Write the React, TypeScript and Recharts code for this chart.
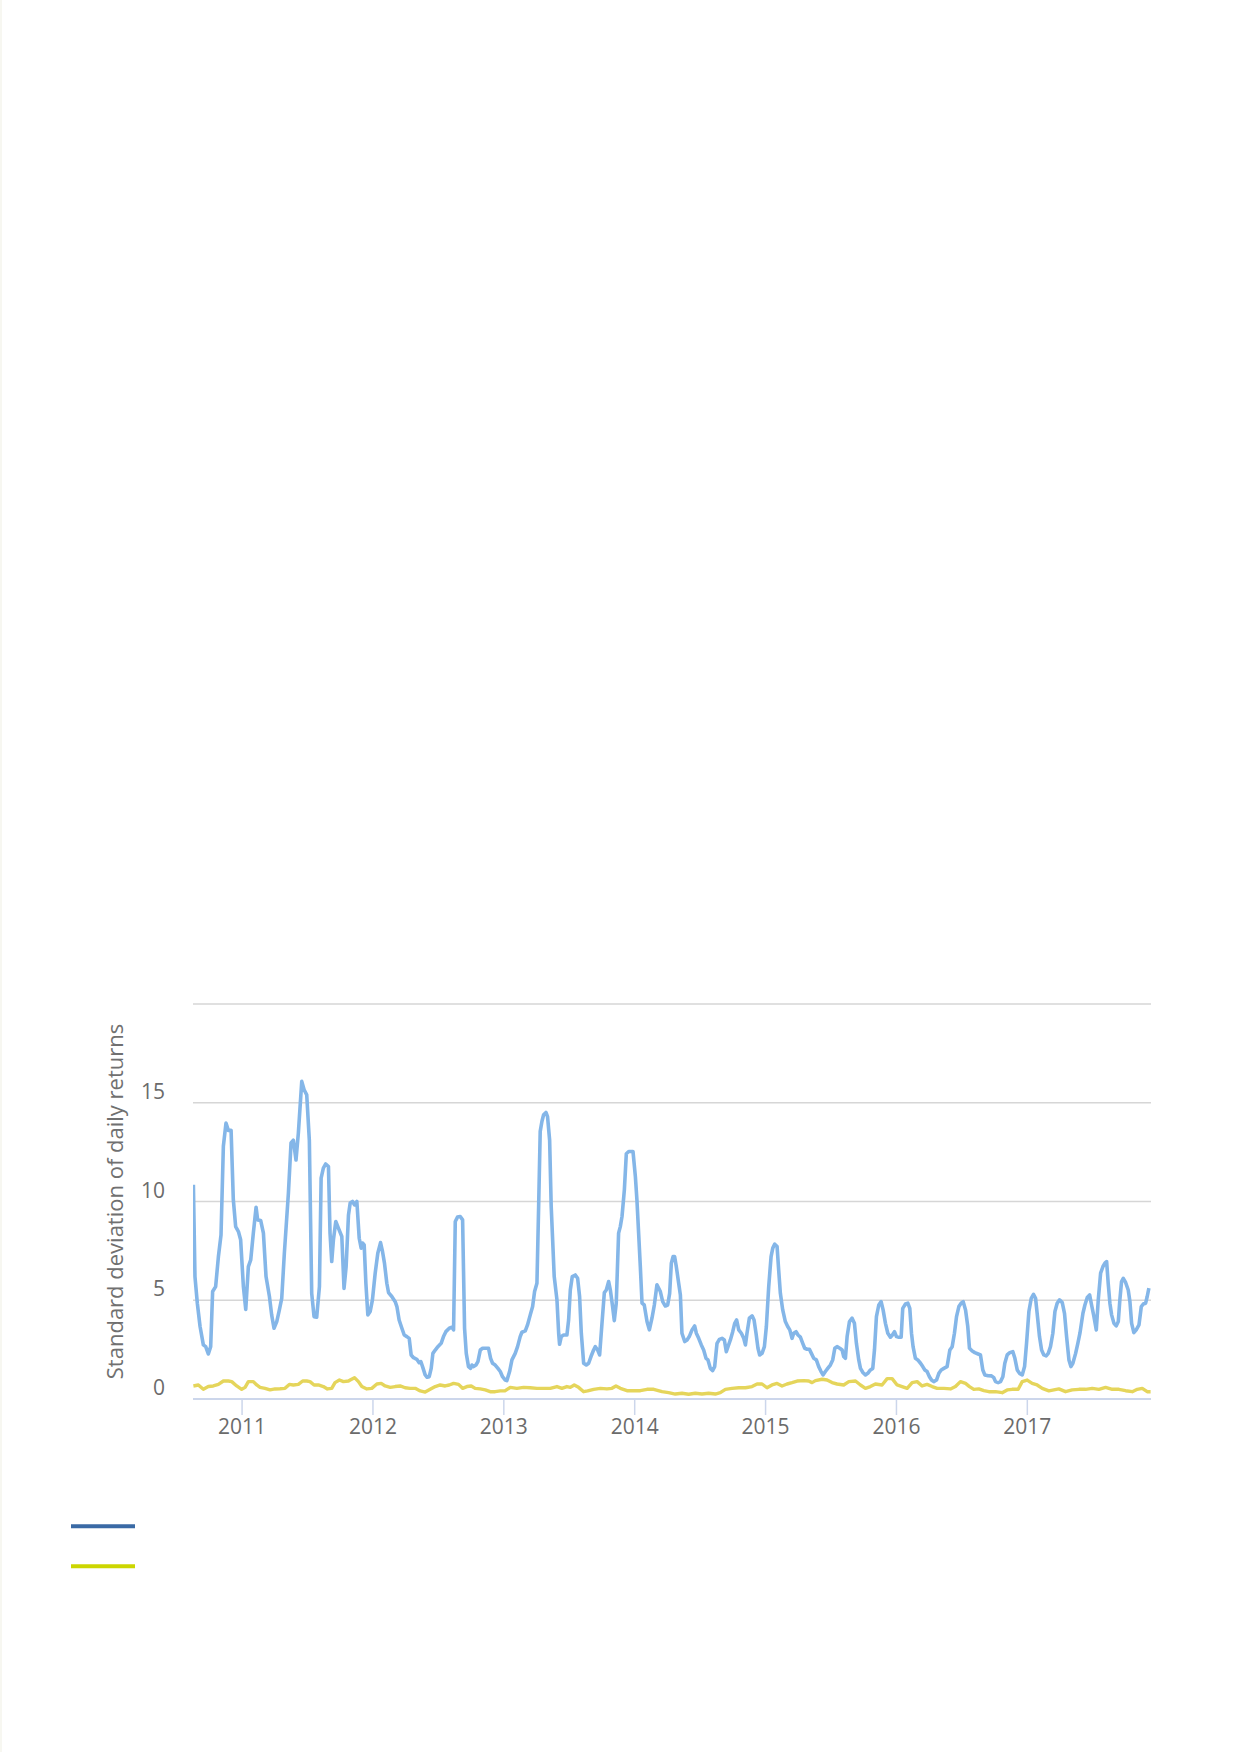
import React from "react";
import { LineChart, Line, XAxis, YAxis, CartesianGrid } from "recharts";

const FONT = '"Open Sans", "DejaVu Sans", sans-serif';

// decimal-year dates and values
const blueDates = [
  2010.628, 2010.64, 2010.658, 2010.679, 2010.704, 2010.722, 2010.742, 2010.76, 2010.775, 2010.798,
  2010.819, 2010.839, 2010.857, 2010.877, 2010.895, 2010.916, 2010.933, 2010.951, 2010.972, 2010.989,
  2011.01, 2011.028, 2011.048, 2011.066, 2011.086, 2011.107, 2011.119, 2011.142, 2011.163, 2011.183,
  2011.209, 2011.226, 2011.244, 2011.265, 2011.285, 2011.303, 2011.323, 2011.354, 2011.374, 2011.392,
  2011.412, 2011.43, 2011.456, 2011.474, 2011.494, 2011.514, 2011.532, 2011.55, 2011.57, 2011.591,
  2011.604, 2011.621, 2011.639, 2011.66, 2011.672, 2011.685, 2011.698, 2011.716, 2011.736, 2011.762,
  2011.779, 2011.795, 2011.813,
  2011.826, 2011.844, 2011.859, 2011.877, 2011.895, 2011.91, 2011.92, 2011.933, 2011.946, 2011.961,
  2011.979, 2011.996, 2012.017, 2012.037, 2012.058, 2012.073, 2012.088, 2012.106, 2012.119, 2012.144,
  2012.17, 2012.183, 2012.2, 2012.221, 2012.239, 2012.259, 2012.277, 2012.292, 2012.31, 2012.335,
  2012.353, 2012.366, 2012.379, 2012.399, 2012.414, 2012.43, 2012.445, 2012.458, 2012.476, 2012.496,
  2012.521, 2012.539, 2012.557, 2012.583, 2012.603, 2012.616, 2012.629, 2012.646, 2012.667, 2012.685,
  2012.7, 2012.713, 2012.73, 2012.746, 2012.756, 2012.769, 2012.787, 2012.802, 2012.82, 2012.838,
  2012.858, 2012.883, 2012.899, 2012.914, 2012.934, 2012.955, 2012.973, 2012.99, 2013.011,
  2013.023, 2013.044, 2013.062, 2013.087, 2013.105, 2013.125, 2013.138, 2013.164, 2013.181, 2013.202,
  2013.22, 2013.235, 2013.253, 2013.266, 2013.278, 2013.291, 2013.304, 2013.322, 2013.334, 2013.35,
  2013.362, 2013.373, 2013.385, 2013.406, 2013.419, 2013.426, 2013.439, 2013.457, 2013.482, 2013.495,
  2013.508, 2013.523, 2013.546, 2013.564, 2013.579, 2013.592, 2013.61, 2013.63, 2013.648, 2013.666,
  2013.686, 2013.699, 2013.717, 2013.732, 2013.75, 2013.768, 2013.783, 2013.801, 2013.814, 2013.831,
  2013.844, 2013.859, 2013.877, 2013.89, 2013.903, 2013.921, 2013.936, 2013.954, 2013.972, 2013.987,
  2014.005, 2014.017, 2014.03, 2014.043, 2014.056, 2014.073, 2014.094, 2014.112, 2014.132, 2014.15,
  2014.17,
  2014.196, 2014.214, 2014.234, 2014.252, 2014.267, 2014.28, 2014.293, 2014.305, 2014.318, 2014.336,
  2014.349, 2014.361, 2014.382, 2014.4, 2014.417, 2014.438, 2014.458, 2014.471, 2014.489, 2014.509,
  2014.527, 2014.545, 2014.56, 2014.578, 2014.596, 2014.611, 2014.629, 2014.647, 2014.667, 2014.685,
  2014.7, 2014.713, 2014.731, 2014.749, 2014.764, 2014.779, 2014.795, 2014.815, 2014.833, 2014.846,
  2014.858, 2014.876, 2014.897, 2014.912, 2014.927, 2014.942, 2014.955, 2014.973, 2014.991, 2015.006,
  2015.024, 2015.042, 2015.055, 2015.07, 2015.088, 2015.1, 2015.113, 2015.131, 2015.151, 2015.169,
  2015.185, 2015.202, 2015.215, 2015.233, 2015.248, 2015.266, 2015.284, 2015.299, 2015.317, 2015.335,
  2015.35, 2015.368,
  2015.388, 2015.406, 2015.424, 2015.439, 2015.457, 2015.475, 2015.495, 2015.513, 2015.529, 2015.546,
  2015.567, 2015.585, 2015.597, 2015.61, 2015.623, 2015.641, 2015.661, 2015.679, 2015.694, 2015.712,
  2015.725, 2015.745, 2015.763, 2015.781, 2015.801, 2015.819, 2015.832, 2015.847, 2015.865, 2015.883,
  2015.898, 2015.916, 2015.934, 2015.954, 2015.969, 2015.985, 2016.0, 2016.018, 2016.036, 2016.048,
  2016.069, 2016.087, 2016.102, 2016.115, 2016.127, 2016.145, 2016.163, 2016.184, 2016.201, 2016.217,
  2016.234, 2016.252, 2016.268, 2016.285, 2016.306, 2016.324, 2016.342, 2016.362, 2016.387, 2016.408,
  2016.426, 2016.443, 2016.459, 2016.477, 2016.494, 2016.51, 2016.528, 2016.545,
  2016.558, 2016.579, 2016.599, 2016.624, 2016.642, 2016.66, 2016.675, 2016.701, 2016.726, 2016.744,
  2016.757, 2016.777, 2016.795, 2016.813, 2016.828, 2016.846, 2016.866, 2016.889, 2016.905, 2016.923,
  2016.94, 2016.961, 2016.979, 2016.994, 2017.012, 2017.03, 2017.047, 2017.063, 2017.075, 2017.093,
  2017.109, 2017.126, 2017.144, 2017.16, 2017.177, 2017.195, 2017.211, 2017.228, 2017.246, 2017.267,
  2017.284, 2017.3, 2017.318, 2017.333, 2017.348, 2017.369, 2017.386, 2017.402, 2017.425, 2017.44,
  2017.458, 2017.476, 2017.491, 2017.509, 2017.527, 2017.542, 2017.56, 2017.578, 2017.593, 2017.606,
  2017.618, 2017.631, 2017.644, 2017.662, 2017.679, 2017.695, 2017.707, 2017.72, 2017.733, 2017.751,
  2017.771, 2017.784, 2017.797, 2017.814, 2017.832, 2017.853, 2017.871, 2017.886, 2017.904, 2017.916,
  2017.929,
];

const blueValues = [
  10.85, 6.2, 4.85, 3.67, 2.74, 2.65, 2.28, 2.65, 5.44, 5.69,
  7.2, 8.3, 12.8, 13.97, 13.6, 13.6, 10.1, 8.73, 8.48, 8.06,
  5.69, 4.54, 6.7, 7.04, 8.4, 9.71, 9.07, 9.04, 8.4, 6.2,
  5.19, 4.26, 3.58, 3.92, 4.51, 5.1, 7.38, 10.42, 12.96, 13.1,
  12.1, 13.46, 16.08, 15.66, 15.4, 13.1, 5.35, 4.17, 4.14, 5.69,
  11.18, 11.69, 11.9, 11.77, 8.4, 6.96, 8.06, 8.99, 8.65, 8.23,
  5.6, 6.7, 9.32,
  9.92, 10.0, 9.83, 10.0, 8.14, 7.64, 7.9, 7.8, 5.86, 4.26,
  4.43, 5.02, 6.37, 7.38, 7.92, 7.47, 6.88, 5.86, 5.39, 5.19,
  4.93, 4.68, 4.0, 3.58, 3.24, 3.16, 3.07, 2.23, 2.09, 2.01,
  1.84, 1.89, 1.64, 1.22, 1.1, 1.13, 1.55, 2.31, 2.48, 2.65,
  2.82, 3.16, 3.41, 3.58, 3.63, 3.5, 8.99, 9.21, 9.24, 9.07,
  3.58, 2.31, 1.64, 1.55, 1.72, 1.64, 1.72, 1.89, 2.48, 2.57,
  2.57, 2.57, 2.06, 1.81, 1.72, 1.55, 1.39, 1.13, 0.96,
  0.93, 1.39, 1.98, 2.31, 2.65, 3.16, 3.38, 3.45, 3.75, 4.26,
  4.68, 5.44, 5.86, 9.75, 13.55, 14.05, 14.39, 14.51, 14.3, 13.1,
  9.75, 8.06, 6.2, 5.02, 3.33, 2.77, 3.16, 3.24, 3.24, 4.0,
  5.52, 6.2, 6.28, 6.11, 5.19, 3.33, 1.81, 1.72, 1.81, 2.15,
  2.48, 2.65, 2.48, 2.23, 3.83, 5.39, 5.52, 5.95, 5.52, 4.68,
  3.97, 4.85, 8.4, 8.73, 9.24, 10.59, 12.42, 12.53, 12.53, 12.53,
  11.27, 10.08, 8.4, 6.7, 4.85, 4.76, 3.92, 3.5, 4.09, 4.76,
  5.78,
  5.44, 4.93, 4.71, 4.76, 5.35, 6.88, 7.21, 7.21, 6.7, 5.86,
  5.27, 3.33, 2.91, 2.99, 3.16, 3.5, 3.7, 3.33, 3.07, 2.74,
  2.48, 2.06, 1.98, 1.55, 1.44, 1.64, 2.82, 3.02, 3.07, 2.99,
  2.4, 2.65, 2.99, 3.41, 3.83, 4.0, 3.5, 3.33, 3.07, 2.74,
  3.33, 4.09, 4.21, 4.0, 3.33, 2.57, 2.23, 2.31, 2.65, 3.67,
  5.69, 7.21, 7.64, 7.84, 7.72, 6.54, 5.35, 4.51, 3.92, 3.67,
  3.5, 3.07, 3.33, 3.41, 3.24, 3.13, 2.82, 2.57, 2.52, 2.52,
  2.31, 2.06,
  1.98, 1.64, 1.39, 1.22, 1.39, 1.55, 1.72, 1.98, 2.57, 2.65,
  2.57, 2.48, 2.15, 2.06, 3.16, 3.92, 4.09, 3.83, 2.82, 1.98,
  1.55, 1.33, 1.22, 1.3, 1.47, 1.55, 2.48, 4.17, 4.76, 4.93,
  4.51, 3.83, 3.33, 3.13, 3.24, 3.41, 3.16, 3.13, 3.13, 4.59,
  4.81, 4.85, 4.59, 3.33, 2.65, 2.06, 1.98, 1.81, 1.64, 1.47,
  1.39, 1.13, 0.96, 0.88, 0.96, 1.3, 1.47, 1.55, 1.64, 2.48,
  2.65, 3.33, 4.17, 4.68, 4.85, 4.93, 4.51, 3.67,
  2.57, 2.43, 2.35, 2.28, 2.23, 1.47, 1.22, 1.18, 1.17, 1.08,
  0.88, 0.83, 0.88, 1.13, 1.81, 2.23, 2.35, 2.4, 2.06, 1.47,
  1.3, 1.22, 1.64, 2.82, 4.43, 5.1, 5.3, 5.1, 4.34, 3.16,
  2.48, 2.23, 2.18, 2.31, 2.65, 3.33, 4.43, 4.85, 5.02, 4.88,
  4.34, 3.16, 1.98, 1.64, 1.81, 2.31, 2.82, 3.33, 4.34, 4.76,
  5.14, 5.27, 4.76, 4.17, 3.5, 5.02, 6.37, 6.71, 6.88, 6.96,
  5.86, 4.85, 4.26, 3.83, 3.7, 3.92, 5.02, 5.95, 6.11, 5.9,
  5.52, 4.93, 3.83, 3.36, 3.5, 3.75, 4.68, 4.81, 4.85, 5.19,
  5.61,
];

const yellowDates = [
  2010.628, 2010.666, 2010.704, 2010.742, 2010.78, 2010.819, 2010.857, 2010.895, 2010.921, 2010.959,
  2010.997, 2011.023, 2011.048, 2011.086, 2011.112, 2011.137, 2011.175, 2011.214, 2011.252, 2011.29,
  2011.328, 2011.361, 2011.392, 2011.43, 2011.463, 2011.494, 2011.519, 2011.55, 2011.583, 2011.621,
  2011.652, 2011.685, 2011.71, 2011.744, 2011.774, 2011.813,
  2011.826, 2011.859, 2011.889, 2011.915, 2011.953, 2011.991, 2012.03, 2012.063, 2012.093, 2012.132,
  2012.17, 2012.208, 2012.246, 2012.284, 2012.323, 2012.361, 2012.399, 2012.437, 2012.476, 2012.514,
  2012.552, 2012.583, 2012.616, 2012.654, 2012.685, 2012.718, 2012.751, 2012.781, 2012.82, 2012.858,
  2012.896, 2012.934, 2012.973, 2013.011,
  2013.049, 2013.1, 2013.151, 2013.202, 2013.253, 2013.304, 2013.355, 2013.406, 2013.444, 2013.482,
  2013.508, 2013.538, 2013.571, 2013.61, 2013.64, 2013.686, 2013.737, 2013.788, 2013.826, 2013.857,
  2013.89, 2013.941, 2013.992, 2014.043, 2014.094, 2014.145,
  2014.209, 2014.259, 2014.31, 2014.361, 2014.412, 2014.463, 2014.514, 2014.565, 2014.616, 2014.654,
  2014.693, 2014.744, 2014.795, 2014.846, 2014.897, 2014.935, 2014.973, 2015.011, 2015.049, 2015.088,
  2015.126, 2015.164, 2015.202, 2015.241, 2015.292, 2015.33, 2015.355, 2015.381,
  2015.432, 2015.47, 2015.508, 2015.546, 2015.597, 2015.636, 2015.687, 2015.725, 2015.763, 2015.801,
  2015.839, 2015.89, 2015.929, 2015.967, 2016.005, 2016.043, 2016.082, 2016.12, 2016.158, 2016.196,
  2016.234, 2016.273, 2016.311, 2016.362, 2016.413, 2016.451, 2016.489, 2016.528,
  2016.558, 2016.591, 2016.629, 2016.668, 2016.706, 2016.757, 2016.808, 2016.846, 2016.884, 2016.93,
  2016.961, 2016.999, 2017.037, 2017.075, 2017.114, 2017.165, 2017.203, 2017.241, 2017.292, 2017.343,
  2017.394, 2017.445, 2017.496, 2017.547, 2017.598, 2017.649, 2017.7, 2017.751, 2017.802, 2017.84,
  2017.878, 2017.916, 2017.942,
];

const yellowValues = [
  0.66, 0.71, 0.49, 0.63, 0.66, 0.74, 0.91, 0.91, 0.88, 0.66,
  0.49, 0.59, 0.88, 0.88, 0.71, 0.59, 0.54, 0.46, 0.51, 0.52,
  0.54, 0.74, 0.71, 0.74, 0.91, 0.91, 0.88, 0.71, 0.71, 0.63,
  0.51, 0.54, 0.83, 0.96, 0.88, 0.91,
  0.96, 1.08, 0.88, 0.63, 0.51, 0.54, 0.76, 0.79, 0.66, 0.59,
  0.63, 0.66, 0.57, 0.54, 0.54, 0.41, 0.35, 0.49, 0.63, 0.71,
  0.66, 0.71, 0.79, 0.74, 0.54, 0.63, 0.66, 0.54, 0.51, 0.46,
  0.37, 0.37, 0.41, 0.42,
  0.59, 0.54, 0.59, 0.57, 0.54, 0.54, 0.54, 0.63, 0.54, 0.63,
  0.59, 0.71, 0.59, 0.37, 0.41, 0.49, 0.54, 0.51, 0.54, 0.66,
  0.54, 0.42, 0.42, 0.42, 0.49, 0.49,
  0.37, 0.32, 0.25, 0.29, 0.24, 0.29, 0.25, 0.29, 0.25, 0.32,
  0.49, 0.54, 0.57, 0.57, 0.63, 0.76, 0.76, 0.57, 0.71, 0.79,
  0.66, 0.76, 0.83, 0.91, 0.93, 0.91, 0.83, 0.93,
  1.0, 0.96, 0.83, 0.76, 0.71, 0.88, 0.91, 0.71, 0.54, 0.63,
  0.76, 0.71, 1.03, 1.03, 0.71, 0.63, 0.54, 0.83, 0.88, 0.66,
  0.74, 0.63, 0.54, 0.54, 0.51, 0.63, 0.88, 0.79,
  0.63, 0.49, 0.51, 0.42, 0.37, 0.37, 0.32, 0.46, 0.49, 0.49,
  0.88, 0.96, 0.79, 0.71, 0.54, 0.41, 0.46, 0.51, 0.37, 0.46,
  0.49, 0.49, 0.54, 0.49, 0.59, 0.49, 0.49, 0.42, 0.37, 0.49,
  0.54, 0.37, 0.37,
];

const xTicks = [2011, 2012, 2013, 2014, 2015, 2016, 2017];
const yTicks = [0, 5, 10, 15, 20];
const yLabelTicks = [0, 5, 10, 15];
const xDomain = [2010.625, 2017.945];
const yTitle = "Standard deviation of daily returns";

const blueData = blueDates.map((t, i) => ({ t, v: blueValues[i] }));
const yellowData = yellowDates.map((t, i) => ({ t, v: yellowValues[i] }));

const YTick = (props: any) => {
  const { x, y, payload } = props;
  if (!yLabelTicks.includes(payload.value)) return <g />;
  return (
    <text x={x} y={y} dy={-4} textAnchor="end" fill="#6b6b6b" fontSize={21} fontFamily={FONT}>
      {payload.value}
    </text>
  );
};

const XTick = (props: any) => {
  const { x, y, payload } = props;
  return (
    <text x={x} y={y} dy={17} textAnchor="middle" fill="#6b6b6b" fontSize={21} fontFamily={FONT}>
      {payload.value}
    </text>
  );
};

export default function App() {
  return (
    <div
      style={{
        position: "absolute",
        left: 0,
        top: 0,
        width: 1239,
        height: 1752,
        background: "#ffffff",
        borderLeft: "2px solid #f7f7f1",
        boxSizing: "border-box",
        overflow: "hidden",
        fontFamily: FONT,
      }}
    >
      <div style={{ position: "absolute", left: -2, top: 960 }}>
        <LineChart
          width={1239}
          height={500}
          margin={{ top: 44, right: 88, bottom: 0, left: 0 }}
        >
          <CartesianGrid horizontal vertical={false} stroke="#d6d6d6" strokeWidth={1.6} />
          <XAxis
            type="number"
            dataKey="t"
            domain={xDomain}
            ticks={xTicks}
            allowDataOverflow
            height={61}
            axisLine={{ stroke: "#ccd6eb", strokeWidth: 1.8 }}
            tickLine={{ stroke: "#ccd6eb", strokeWidth: 1.5 }}
            tickSize={16}
            tickMargin={2}
            tick={<XTick />}
            interval={0}
          />
          <YAxis
            type="number"
            domain={[0, 20]}
            ticks={yTicks}
            width={193}
            axisLine={false}
            tickLine={false}
            tickSize={0}
            tickMargin={28}
            tick={<YTick />}
            interval={0}
          />
          <Line
            data={yellowData}
            dataKey="v"
            type="linear"
            stroke="#e5d55b"
            strokeWidth={3.4}
            strokeLinejoin="round"
            dot={false}
            activeDot={false}
            isAnimationActive={false}
          />
          <Line
            data={blueData}
            dataKey="v"
            type="linear"
            stroke="#84b6e8"
            strokeWidth={3.6}
            strokeLinejoin="round"
            dot={false}
            activeDot={false}
            isAnimationActive={false}
          />
        </LineChart>
      </div>
      <svg
        width={1239}
        height={1752}
        style={{ position: "absolute", left: -2, top: 0, pointerEvents: "none" }}
      >
        <text
          transform="translate(122.5,1201.5) rotate(-90)"
          textAnchor="middle"
          fill="#707070"
          fontSize={22}
          fontFamily={FONT}
        >
          {yTitle}
        </text>
        <line x1={71} y1={1526.3} x2={135} y2={1526.3} stroke="#3a6aa5" strokeWidth={4} />
        <line x1={71} y1={1566.2} x2={135} y2={1566.2} stroke="#ccd600" strokeWidth={4} />
      </svg>
    </div>
  );
}
